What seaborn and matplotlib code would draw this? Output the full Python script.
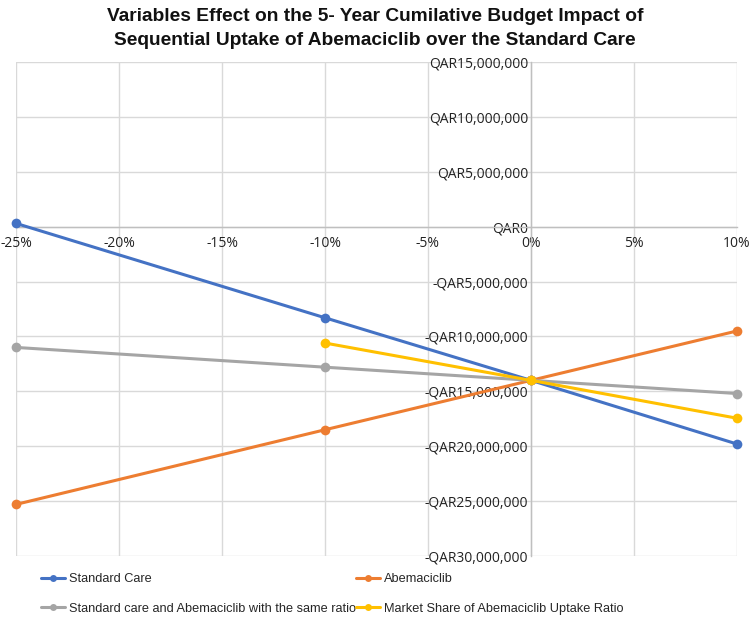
import matplotlib
matplotlib.use("Agg")
import matplotlib.pyplot as plt
import matplotlib.ticker as mticker
import seaborn as sns
import pandas as pd
import numpy as np

# ---- data ----
x_change = [-25, -10, 0, 10]
standard_care = [0.3e6, -8.3e6, -14.0e6, -19.8e6]
abemaciclib = [-25.3e6, -18.5e6, -14.0e6, -9.5e6]
same_ratio = [-11.0e6, -12.8e6, -14.0e6, -15.2e6]
market_share = [np.nan, -10.6e6, -14.0e6, -17.45e6]

series_names = ["Standard Care", "Abemaciclib",
                "Standard care and Abemaciclib with the same ratio",
                "Market Share of Abemaciclib Uptake Ratio"]
series_values = [standard_care, abemaciclib, same_ratio, market_share]
colors = ["#4472C4", "#ED7D31", "#A5A5A5", "#FFC000"]
x_ticks = [-25, -20, -15, -10, -5, 0, 5, 10]
y_ticks = [15e6, 10e6, 5e6, 0, -5e6, -10e6, -15e6, -20e6, -25e6, -30e6]

rows = []
for name, vals in zip(series_names, series_values):
    for xv, yv in zip(x_change, vals):
        if not np.isnan(yv):
            rows.append({"x": xv, "y": yv, "series": name})
df = pd.DataFrame(rows)

sns.set_theme(style="white")
plt.rcParams["font.family"] = ["Liberation Sans", "DejaVu Sans"]

fig = plt.figure(figsize=(7.5, 6.18), dpi=100)
ax = fig.add_axes([16 / 750, 1 - 556 / 618, (737 - 16) / 750, (556 - 62) / 618])

sns.lineplot(data=df, x="x", y="y", hue="series", hue_order=series_names,
             palette=colors, marker="o", markersize=7, markeredgewidth=0,
             linewidth=2.2, ax=ax, clip_on=False, zorder=3)

ax.set_xlim(-25, 10)
ax.set_ylim(-30e6, 15e6)
ax.set_xticks(x_ticks)
ax.set_yticks(y_ticks)
ax.xaxis.set_major_formatter(mticker.FuncFormatter(lambda v, p: f"{int(v)}%"))

def qar(v, p):
    v = int(round(v))
    return ("-" if v < 0 else "") + f"QAR{abs(v):,}"
ax.yaxis.set_major_formatter(mticker.FuncFormatter(qar))

ax.set_xlabel("")
ax.set_ylabel("")
ax.grid(True, color="#d9d9d9", linewidth=1.0)
ax.set_axisbelow(True)

for s in ["top", "right"]:
    ax.spines[s].set_visible(False)
ax.spines["left"].set_position(("data", 0))
ax.spines["bottom"].set_position(("data", 0))
for s in ["left", "bottom"]:
    ax.spines[s].set_color("#bfbfbf")
    ax.spines[s].set_linewidth(1.0)

ax.tick_params(axis="both", length=0, labelsize=10, colors="#222222")
ax.tick_params(axis="x", pad=7)
ax.tick_params(axis="y", pad=2)
for lab in ax.get_xticklabels() + ax.get_yticklabels():
    lab.set_fontfamily(["Open Sans", "DejaVu Sans"])

fig.suptitle("Variables Effect on the 5- Year Cumilative Budget Impact of\n"
             "Sequential Uptake of Abemaciclib over the Standard Care",
             fontsize=13.8, fontweight="bold", y=0.987, va="top", linespacing=1.5,
             color="#111111")

handles, labels = ax.get_legend_handles_labels()
if ax.legend_:
    ax.legend_.remove()
order = [0, 2, 1, 3]
leg = fig.legend([handles[i] for i in order], [labels[i] for i in order],
                 loc="upper left", bbox_to_anchor=(0.048, 0.081),
                 ncol=2, frameon=False, fontsize=9.2, handlelength=1.9,
                 handletextpad=0.3, columnspacing=0.0, labelspacing=1.4,
                 borderaxespad=0)
for line in leg.get_lines():
    line.set_markersize(5)
    line.set_linewidth(2.2)

fig.savefig("out.png", dpi=100)
